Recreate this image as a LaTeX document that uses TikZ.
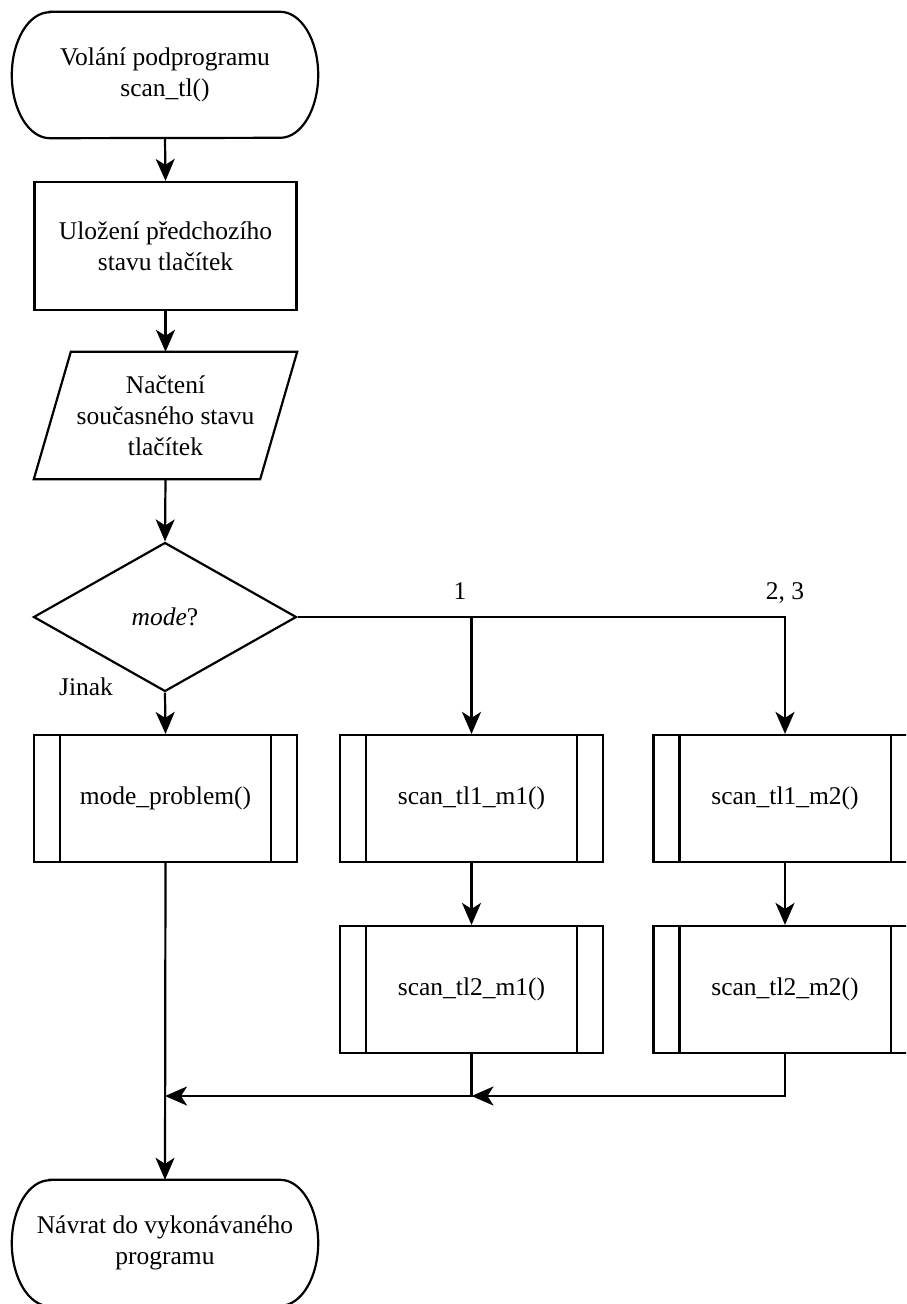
\documentclass[tikz,border=0pt]{standalone}
\usepackage{fontspec}
\setmainfont{Liberation Serif}
\usetikzlibrary{shapes.geometric,arrows.meta,calc}

\tikzset{
  line/.style={line width=2.2pt, draw=black},
  arr/.style={line, -{Stealth[length=22pt,width=19pt,inset=6pt]}},
  txt/.style={font=\fontsize{25.5}{31}\selectfont, align=center, inner sep=0pt},
  terminal/.style={txt, minimum width=306pt, minimum height=126pt},
  procbox/.style={txt, line, rectangle, minimum width=262pt, minimum height=128pt},
  iobox/.style={txt, minimum width=226pt, minimum height=127pt},
  decision/.style={txt, line, diamond, minimum width=263pt, minimum height=149pt},
  subproc/.style={txt, line, rectangle, minimum width=263pt, minimum height=127pt},
  lbl/.style={txt, anchor=base},
}

% outline of a start/end terminator with elliptic ends
\newcommand{\terminatoroutline}[1]{%
  \draw[line] ([xshift=38pt]#1.north west) -- ([xshift=-38pt]#1.north east)
    arc[start angle=90,end angle=-90,x radius=38pt,y radius=63pt]
    -- ([xshift=38pt]#1.south west)
    arc[start angle=270,end angle=90,x radius=38pt,y radius=63pt] -- cycle;}

\begin{document}
\begin{tikzpicture}[x=1pt,y=-1pt]
\clip (0,0) rectangle (906,1304);
\fill[white] (0,0) rectangle (906,1304);

% main column
\node[terminal] (start) at (165,75) {Volání podprogramu\\scan\_tl()};
\terminatoroutline{start}
\node[procbox] (save) at (165.5,246) {Uložení předchozího\\stavu tlačítek};
\node[iobox] (io) at (165.5,415.5) {Načtení\\současného stavu\\tlačítek};
\draw[line] ([xshift=18.5pt]io.north west) -- ([xshift=18.5pt]io.north east)
  -- ([xshift=-18.5pt]io.south east) -- ([xshift=-18.5pt]io.south west) -- cycle;
\node[decision] (mode) at (165,617) {\textit{mode}?};

% subprocess calls
\node[subproc] (mp) at (165.5,798.5) {mode\_problem()};
\node[subproc] (a1) at (471.5,798.5) {scan\_tl1\_m1()};
\node[subproc] (a2) at (471.5,989.5) {scan\_tl2\_m1()};
\node[subproc] (b1) at (785,798.5) {scan\_tl1\_m2()};
\node[subproc] (b2) at (785,989.5) {scan\_tl2\_m2()};
\foreach \n in {mp,a1,a2,b1,b2}{
  \draw[line] ([xshift=27pt]\n.north west) -- ([xshift=27pt]\n.south west);
  \draw[line] ([xshift=-27pt]\n.north east) -- ([xshift=-27pt]\n.south east);
}

\node[terminal] (end) at (165,1243) {Návrat do vykonávaného\\programu};
\terminatoroutline{end}

% connectors
\draw[arr] (start.south) -- (save.north);
\draw[arr] (save.south) -- (io.north);
\draw[arr] (io.south) -- (mode.north);
\draw[arr] (mode.south) -- (mp.north);

\coordinate (br1) at (a1.north |- mode.east);
\draw[arr] (mode.east) -| (b1.north);
\draw[arr] (br1) -- (a1.north);
\draw[arr] (a1.south) -- (a2.north);
\draw[arr] (b1.south) -- (b2.north);

\coordinate (j1) at (471.5,1096);
\coordinate (j0) at (165,1096);
\draw[arr] (b2.south) |- (j1);
\draw[arr] (a2.south) -- (j1) -- (j0);
\draw[arr] (mp.south) -- (end.north);

% branch labels
\node[lbl] (l1) at (460,599) {1};
\node[lbl] (l23) at (785,599) {2, 3};
\node[lbl] (jinak) at (86,695) {Jinak};
\end{tikzpicture}
\end{document}
